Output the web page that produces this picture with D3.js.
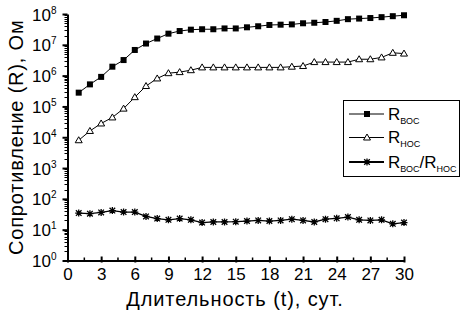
<!DOCTYPE html>
<html><head><meta charset="utf-8">
<script src="https://cdn.jsdelivr.net/npm/d3@7/dist/d3.min.js"></script>
<style>body{margin:0;background:#fff}svg{display:block}text{font-family:"Liberation Sans",Arial,sans-serif;fill:#000}</style>
</head><body><svg id="c" width="465" height="315"></svg>
<script>
const days = d3.range(1, 31);
const rBOC = [2.8e5,5.2e5,9.1e5,1.95e6,3.2e6,6.8e6,1.1e7,1.6e7,2.3e7,2.8e7,3.1e7,3.2e7,3.2e7,3.4e7,3.4e7,3.7e7,4.0e7,4.4e7,4.5e7,4.6e7,5.0e7,5.2e7,5.5e7,6.0e7,6.8e7,7.1e7,7.4e7,7.9e7,8.5e7,9.1e7];
const rHOC = [8e3,1.6e4,2.8e4,4.4e4,8.5e4,2.0e5,4.6e5,8.1e5,1.2e6,1.3e6,1.5e6,1.85e6,1.85e6,1.85e6,1.85e6,1.85e6,1.85e6,1.85e6,1.85e6,1.95e6,2.05e6,2.75e6,2.75e6,2.75e6,2.75e6,3.4e6,3.4e6,3.9e6,5.5e6,5.2e6];
const rRatio = [34.7,33.1,36.3,41.7,37.2,37.2,26.9,22.9,20.9,22.9,20.9,17.0,17.8,17.8,18.2,19.1,20.0,19.1,20.0,21.9,20.0,17.8,21.9,23.4,25.7,20.9,20.0,20.9,15.5,17.0];
const xTicks = [0,3,6,9,12,15,18,21,24,27,30];
const yExponents = [0,1,2,3,4,5,6,7,8];
const xLabel = "Длительность (t), сут.";
const yLabel = "Сопротивление (R), Ом";

const svg = d3.select("#c");
const x = d3.scaleLinear().domain([0, 30]).range([67.5, 404]);
const y = d3.scaleLog().domain([1, 1e8]).range([260.5, 14]);

// minor ticks
const gMinor = svg.append("g");
const yMinor = [];
for (let e = 0; e < 8; e++) for (let k = 2; k <= 9; k++) yMinor.push(k * Math.pow(10, e));
gMinor.selectAll("line.ym").data(yMinor).join("line")
  .attr("x1", x(0) - 3).attr("x2", x(0)).attr("y1", d => Math.round(y(d)) + 0.5).attr("y2", d => Math.round(y(d)) + 0.5)
  .attr("stroke", "#000").attr("stroke-width", 1);
const xMinor = d3.range(1.5, 30, 3);
gMinor.selectAll("line.xm").data(xMinor).join("line")
  .attr("x1", d => x(d)).attr("x2", d => x(d)).attr("y1", y(1)).attr("y2", y(1) - 3)
  .attr("stroke", "#000").attr("stroke-width", 1.5);

// axes
const gx = svg.append("g").attr("transform", `translate(0,${y(1)})`)
  .call(d3.axisBottom(x).tickValues(xTicks).tickSize(4).tickSizeOuter(0).tickPadding(3));
gx.select(".domain").attr("stroke-width", 2);
gx.selectAll(".tick line").attr("stroke-width", 2).attr("y1", -4).attr("y2", 2);
gx.selectAll("text").style("font-size", "17px").style("font-family", "Liberation Sans, Arial");

const gy = svg.append("g").attr("transform", `translate(${x(0)},0)`)
  .call(d3.axisLeft(y).tickValues(yExponents.map(e => Math.pow(10, e))).tickSize(5).tickSizeOuter(0).tickPadding(6).tickFormat(""));
gy.select(".domain").attr("stroke-width", 2);
gy.selectAll(".tick line").attr("stroke-width", 2);
gy.selectAll(".tick").each(function(d) {
  const e = Math.round(Math.log10(d));
  const t = d3.select(this).append("text").attr("x", -11).attr("y", 6)
    .attr("text-anchor", "end").style("font-size", "17px").attr("fill", "#000");
  t.append("tspan").text("10");
  t.append("tspan").attr("dy", -7).style("font-size", "10px").text(e);
});

// series
const line = d3.line().x((d, i) => x(days[i])).y(d => y(d));
function path(data, w) {
  svg.append("path").datum(data).attr("d", line).attr("fill", "none").attr("stroke", "#000").attr("stroke-width", w);
}
path(rBOC, 1);
path(rHOC, 1);
path(rRatio, 1.3);

function square(g, cx, cy) {
  g.append("rect").attr("x", cx - 3).attr("y", cy - 3).attr("width", 6).attr("height", 6).attr("fill", "#000");
}
function tri(g, cx, cy) {
  g.append("path").attr("d", `M${cx},${cy - 3.5}L${cx + 3.5},${cy + 2.5}L${cx - 3.5},${cy + 2.5}Z`)
    .attr("fill", "#fff").attr("stroke", "#000").attr("stroke-width", 1);
}
function star(g, cx, cy) {
  const r = 3.5;
  let d = `M${cx - r},${cy}L${cx + r},${cy}`;
  d += `M${cx - r * 0.8},${cy - r * 0.8}L${cx + r * 0.8},${cy + r * 0.8}`;
  d += `M${cx - r * 0.8},${cy + r * 0.8}L${cx + r * 0.8},${cy - r * 0.8}`;
  d += `M${cx},${cy - r}L${cx},${cy + r}`;
  g.append("path").attr("d", d).attr("stroke", "#000").attr("stroke-width", 1.3).attr("fill", "none");
}
const gm = svg.append("g");
rBOC.forEach((v, i) => square(gm, x(days[i]), y(v)));
rHOC.forEach((v, i) => tri(gm, x(days[i]), y(v)));
rRatio.forEach((v, i) => star(gm, x(days[i]), y(v)));

// axis labels
svg.append("text").attr("x", 235).attr("y", 306).attr("text-anchor", "middle")
  .style("font-size", "20px").style("letter-spacing", "0.9px").text(xLabel);
svg.append("text").attr("transform", `translate(23,${(y(1) + y(1e8)) / 2}) rotate(-90)`)
  .attr("text-anchor", "middle").style("font-size", "20px").style("letter-spacing", "0.8px").text(yLabel);

// legend
const lg = svg.append("g");
lg.append("rect").attr("x", 343.5).attr("y", 100.5).attr("width", 116).attr("height", 76)
  .attr("fill", "#fff").attr("stroke", "#000").attr("stroke-width", 1);
const legendItems = [
  {sub: ["ВОС"], mk: square, w: 1, cy: 114},
  {sub: ["НОС"], mk: tri, w: 1, cy: 137.5},
  {sub: ["ВОС", "НОС"], mk: star, w: 2, cy: 162}
];
legendItems.forEach(it => {
  lg.append("line").attr("x1", 349).attr("x2", 384).attr("y1", it.cy).attr("y2", it.cy)
    .attr("stroke", "#000").attr("stroke-width", it.w);
  it.mk(lg, 367, it.cy);
  const t = lg.append("text").attr("x", 388).attr("y", it.cy + 5.5).style("font-size", "17px");
  it.sub.forEach((s, j) => {
    t.append("tspan").attr("dy", j > 0 ? -4 : 0).style("font-size", "17px").text(j > 0 ? "/R" : "R");
    t.append("tspan").attr("dy", 4).style("font-size", "9px").text(s);
  });
});
</script></body></html>
